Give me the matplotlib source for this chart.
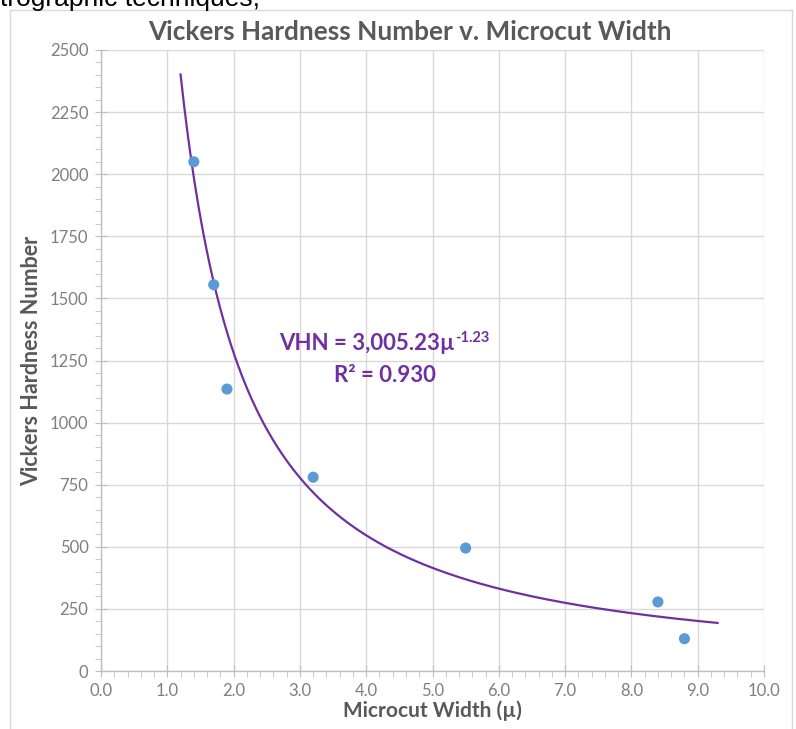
"""Vickers hardness vs microcut width, with power-law trend line."""

import matplotlib
matplotlib.use("Agg")
import matplotlib.pyplot as plt
import numpy as np
from matplotlib.lines import Line2D
from matplotlib.ticker import MultipleLocator

# measured points
width_um = [1.4, 1.7, 1.9, 3.2, 5.5, 8.4, 8.8]
vhn = [2050, 1555, 1135, 780, 495, 278, 130]

# trend line y = a * x^b
fit_a = 3005.23
fit_b = -1.23
fit_x_range = [1.2, 9.3]

x_ticks = [0, 1, 2, 3, 4, 5, 6, 7, 8, 9, 10]
y_ticks = [0, 250, 500, 750, 1000, 1250, 1500, 1750, 2000, 2250, 2500]

TEXT_GRAY = "#595959"
GRID_GRAY = "#d9d9d9"
AXIS_GRAY = "#bfbfbf"
POINT_BLUE = "#5b9bd5"
TREND_PURPLE = "#7030a0"
FONT = ["Lato", "DejaVu Sans"]

fig = plt.figure(figsize=(7.96, 7.29), dpi=100)
ax = fig.add_axes([101 / 796, 1 - 671 / 729, 663 / 796, 621 / 729])
fx = lambda px: px / 796
fy = lambda py: 1 - py / 729

xs = np.linspace(fit_x_range[0], fit_x_range[1], 300)
ax.plot(xs, fit_a * xs ** fit_b, color=TREND_PURPLE, linewidth=1.6, zorder=3)
ax.scatter(width_um, vhn, s=64, color=POINT_BLUE, zorder=4, edgecolors="none")

ax.set_xlim(0, 10)
ax.set_ylim(0, 2500)
ax.set_xticks(x_ticks)
ax.set_xticklabels([f"{v:.1f}" for v in x_ticks])
ax.set_yticks(y_ticks)
ax.set_yticklabels([str(v) for v in y_ticks])
ax.xaxis.set_minor_locator(MultipleLocator(0.2))
ax.yaxis.set_minor_locator(MultipleLocator(50))

ax.grid(True, which="major", color=GRID_GRAY, linewidth=1.0, zorder=0)
ax.set_axisbelow(True)
for side in ("top", "right"):
    ax.spines[side].set_visible(False)
for side in ("left", "bottom"):
    ax.spines[side].set_color(AXIS_GRAY)
    ax.spines[side].set_linewidth(1.0)

ax.tick_params(which="major", direction="inout", length=8, color=AXIS_GRAY,
               labelcolor="#7f7f7f", labelsize=12, pad=5)
ax.tick_params(which="minor", direction="out", length=4, color=AXIS_GRAY)
for lab in ax.get_xticklabels() + ax.get_yticklabels():
    lab.set_family(FONT)

# title centred on the chart frame rather than the plot area
fig.text(fx(410), fy(32), "Vickers Hardness Number v. Microcut Width",
         ha="center", va="center", fontsize=18.8, fontweight="bold",
         color=TEXT_GRAY, family=FONT)
ax.set_xlabel("Microcut Width (µ)", fontsize=15, fontweight="bold",
              color=TEXT_GRAY, family=FONT, labelpad=1)
ax.set_ylabel("Vickers Hardness Number", fontsize=15.5, fontweight="bold",
              color=TEXT_GRAY, family=FONT, labelpad=6)

# trend line equation with superscript exponent
eq = fig.text(fx(279), fy(344), "VHN = 3,005.23µ", ha="left", va="center",
              fontsize=16, fontweight="bold", color=TREND_PURPLE, family=FONT)
fig.canvas.draw()
bb = eq.get_window_extent()
fig.text(bb.x1 / fig.bbox.width + 0.001, bb.y1 / fig.bbox.height - 0.006,
         "-1.23", ha="left", va="center", fontsize=10.5, fontweight="bold",
         color=TREND_PURPLE, family=FONT)
fig.text(fx(385), fy(375), "R² = 0.930", ha="center", va="center",
         fontsize=16, fontweight="bold", color=TREND_PURPLE, family=FONT)

# chart frame and cropped page text above it
frame = [((10, 10), (792, 10)), ((10, 10), (10, 729)), ((792, 10), (792, 729))]
for (x0, y0), (x1, y1) in frame:
    fig.add_artist(Line2D([fx(x0), fx(x1)], [fy(y0), fy(y1)],
                          color=GRID_GRAY, linewidth=1.0))
fig.text(0.0, fy(6), "trographic techniques,", ha="left", va="baseline",
         fontsize=19, color="black", family=["Liberation Sans", "DejaVu Sans"])

fig.savefig("out.png", dpi=100)
